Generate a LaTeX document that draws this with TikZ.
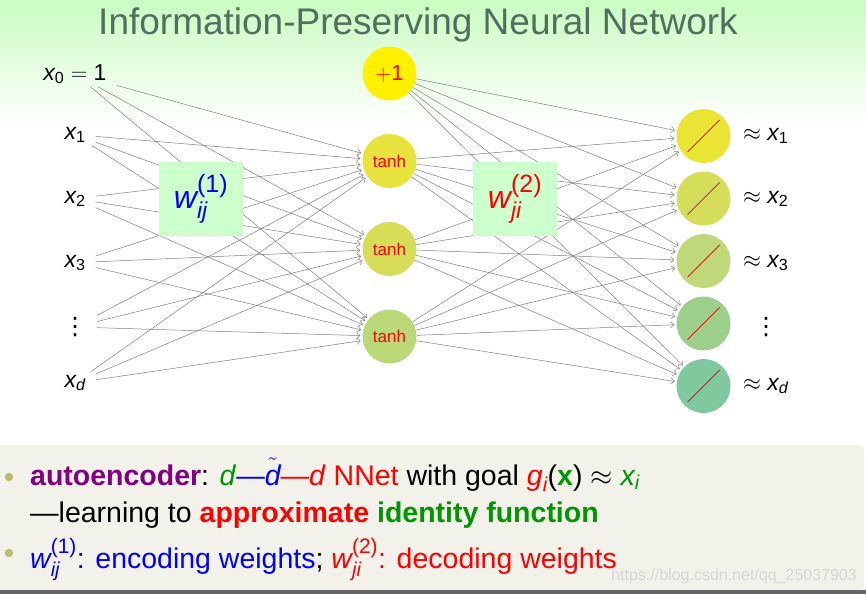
\RequirePackage{fix-cm}
\documentclass[tikz,border=0pt]{standalone}
\usepackage{amsmath}
\usepackage{fontspec}
\setmainfont{Liberation Sans}
\newfontfamily\dejavu{DejaVu Sans}
\usetikzlibrary{arrows.meta}
\definecolor{bgtop}{RGB}{200,252,192}
\definecolor{titlec}{RGB}{82,110,94}
\definecolor{panelc}{RGB}{242,242,234}
\definecolor{bulletc}{RGB}{192,184,112}
\definecolor{boxc}{RGB}{204,255,204}
\definecolor{hb}{RGB}{255,240,0}
\definecolor{ha}{RGB}{232,226,60}
\definecolor{hc}{RGB}{214,222,88}
\definecolor{hd}{RGB}{186,216,120}
\definecolor{oa}{RGB}{234,229,53}
\definecolor{ob}{RGB}{213,222,90}
\definecolor{oc}{RGB}{193,216,122}
\definecolor{od}{RGB}{157,207,140}
\definecolor{oe}{RGB}{128,201,158}
\definecolor{edgec}{RGB}{128,128,128}
\definecolor{gr}{RGB}{0,150,0}
\definecolor{pur}{RGB}{128,0,128}
\definecolor{wm}{RGB}{214,214,214}
\newcommand{\fsz}[2]{\mbox{\fontsize{#1}{#1}\selectfont #2}}
\begin{document}
\begin{tikzpicture}[x=1pt,y=-1pt,
  inlab/.style={inner xsep=10pt,inner ysep=3pt,font=\fontsize{23}{27}\selectfont},
  outlab/.style={inner sep=2pt,anchor=base west,font=\fontsize{23}{27}\selectfont},
  vdotsl/.style={inner xsep=10pt,inner ysep=3pt,font=\dejavu\fontsize{24}{28}\selectfont},
  neuron/.style={circle,minimum size=54pt,inner sep=0pt},
  hid/.style={neuron,text=red,font=\fontsize{17}{20}\selectfont},
  outn/.style={neuron,path picture={\draw[red!85!black,line width=0.7pt]
      (path picture bounding box.center) ++(-16pt,-16pt) -- ++(32pt,32pt);}},
  conn/.style={draw=edgec,line width=0.5pt,shorten >=2pt,
      -{Straight Barb[length=3.5pt,width=6pt]}},
  wbox/.style={fill=boxc,minimum width=84pt,minimum height=74pt,inner sep=0pt,
      font=\fontsize{32}{36}\selectfont},
  bline/.style={anchor=base west,inner sep=0pt,font=\fontsize{28.5}{33}\selectfont}]
\useasboundingbox (0,0) rectangle (866,594);
\fill[white] (0,0) rectangle (866,594);
\shade[top color=bgtop,bottom color=white] (0,0) rectangle (866,125);
% title
\node[text=titlec,font=\fontsize{37}{42}\selectfont] (title) at (418,25) {Information-Preserving Neural Network};
% inputs
\node[inlab,anchor=base] (x0) at (75,80) {$\textit{x}_{\text{0}} = \text{1}$};
\node[inlab,anchor=base] (x1) at (75,139) {$\textit{x}_{\text{1}}$};
\node[inlab,anchor=base] (x2) at (75,203) {$\textit{x}_{\text{2}}$};
\node[inlab,anchor=base] (x3) at (75,267) {$\textit{x}_{\text{3}}$};
\node[vdotsl] (xv) at (75,327) {⋮};
\node[inlab,anchor=base] (xd) at (75,387) {$\textit{x}_{\textit{d}}$};
% hidden
\node[hid,fill=hb,font=\fontsize{22}{26}\selectfont] (hb) at (389.5,73.5) {$+$1};
\node[hid,fill=ha] (h1) at (389.5,161) {tanh};
\node[hid,fill=hc] (h2) at (389.5,249) {tanh};
\node[hid,fill=hd] (h3) at (389.5,336.5) {tanh};
% outputs
\node[outn,fill=oa] (o1) at (703.5,136) {};
\node[outn,fill=ob] (o2) at (703.5,198.5) {};
\node[outn,fill=oc] (o3) at (703.5,261) {};
\node[outn,fill=od] (o4) at (703.5,323.5) {};
\node[outn,fill=oe] (o5) at (703.5,386) {};
\node[outlab] (l1) at (741,140) {$\approx \textit{x}_{\text{1}}$};
\node[outlab] (l2) at (741,203) {$\approx \textit{x}_{\text{2}}$};
\node[outlab] (l3) at (741,267) {$\approx \textit{x}_{\text{3}}$};
\node[inner sep=0pt,font=\dejavu\fontsize{24}{28}\selectfont] (l4) at (766,327) {⋮};
\node[outlab] (l5) at (741,390) {$\approx \textit{x}_{\textit{d}}$};
% connectors
\foreach \i in {x0,x1,x2,x3,xv,xd}{
  \foreach \j in {h1,h2,h3}{
    \draw[conn] (\i) -- (\j);
  }
}
\foreach \i in {hb,h1,h2,h3}{
  \foreach \j in {o1,o2,o3,o4,o5}{
    \draw[conn] (\i) -- (\j);
  }
}
% weight boxes
\node[wbox,text=blue] (w1) at (201,199) {$\textit{w}^{\fsz{25}{(1)}}_{\fsz{23}{\textit{ij}}}$};
\node[wbox,text=red] (w2) at (515,199) {$\textit{w}^{\fsz{25}{(2)}}_{\fsz{23}{\textit{ji}}}$};
% bottom panel
\fill[panelc,rounded corners=6pt] (-10,445) rectangle (864,592);
\fill[black!60] (0,590) rectangle (866,594);
\fill[bulletc] (9,477) circle (4.2);
\fill[bulletc] (9,553) circle (4.2);
\node[bline] (t1) at (30,485) {{\bfseries\color{pur}autoencoder}: {\color{gr}\textit{d}}{\color{blue}—$\tilde{\textit{d}}$}{\color{red}—\textit{d} NNet} with goal {\color{red}$\textit{g}_{\textit{i}}$}(\textbf{\color{gr}x}) $\approx$ {\color{gr}$\textit{x}_{\textit{i}}$}};
\node[bline] (t2) at (30,522) {—learning to {\bfseries\color{red}approximate} {\bfseries\color{gr}identity function}};
\node[bline] (t3) at (30,568) {{\color{blue}$\textit{w}^{\fsz{21}{(1)}}_{\fsz{20}{\textit{ij}}}$: encoding weights}; {\color{red}$\textit{w}^{\fsz{21}{(2)}}_{\fsz{20}{\textit{ji}}}$: decoding weights}};
\node[anchor=base east,inner sep=0pt,text=wm,font=\fontsize{16}{18}\selectfont] (wmk) at (857,580) {https://blog.csdn.net/qq\_25037903};
\end{tikzpicture}
\end{document}
